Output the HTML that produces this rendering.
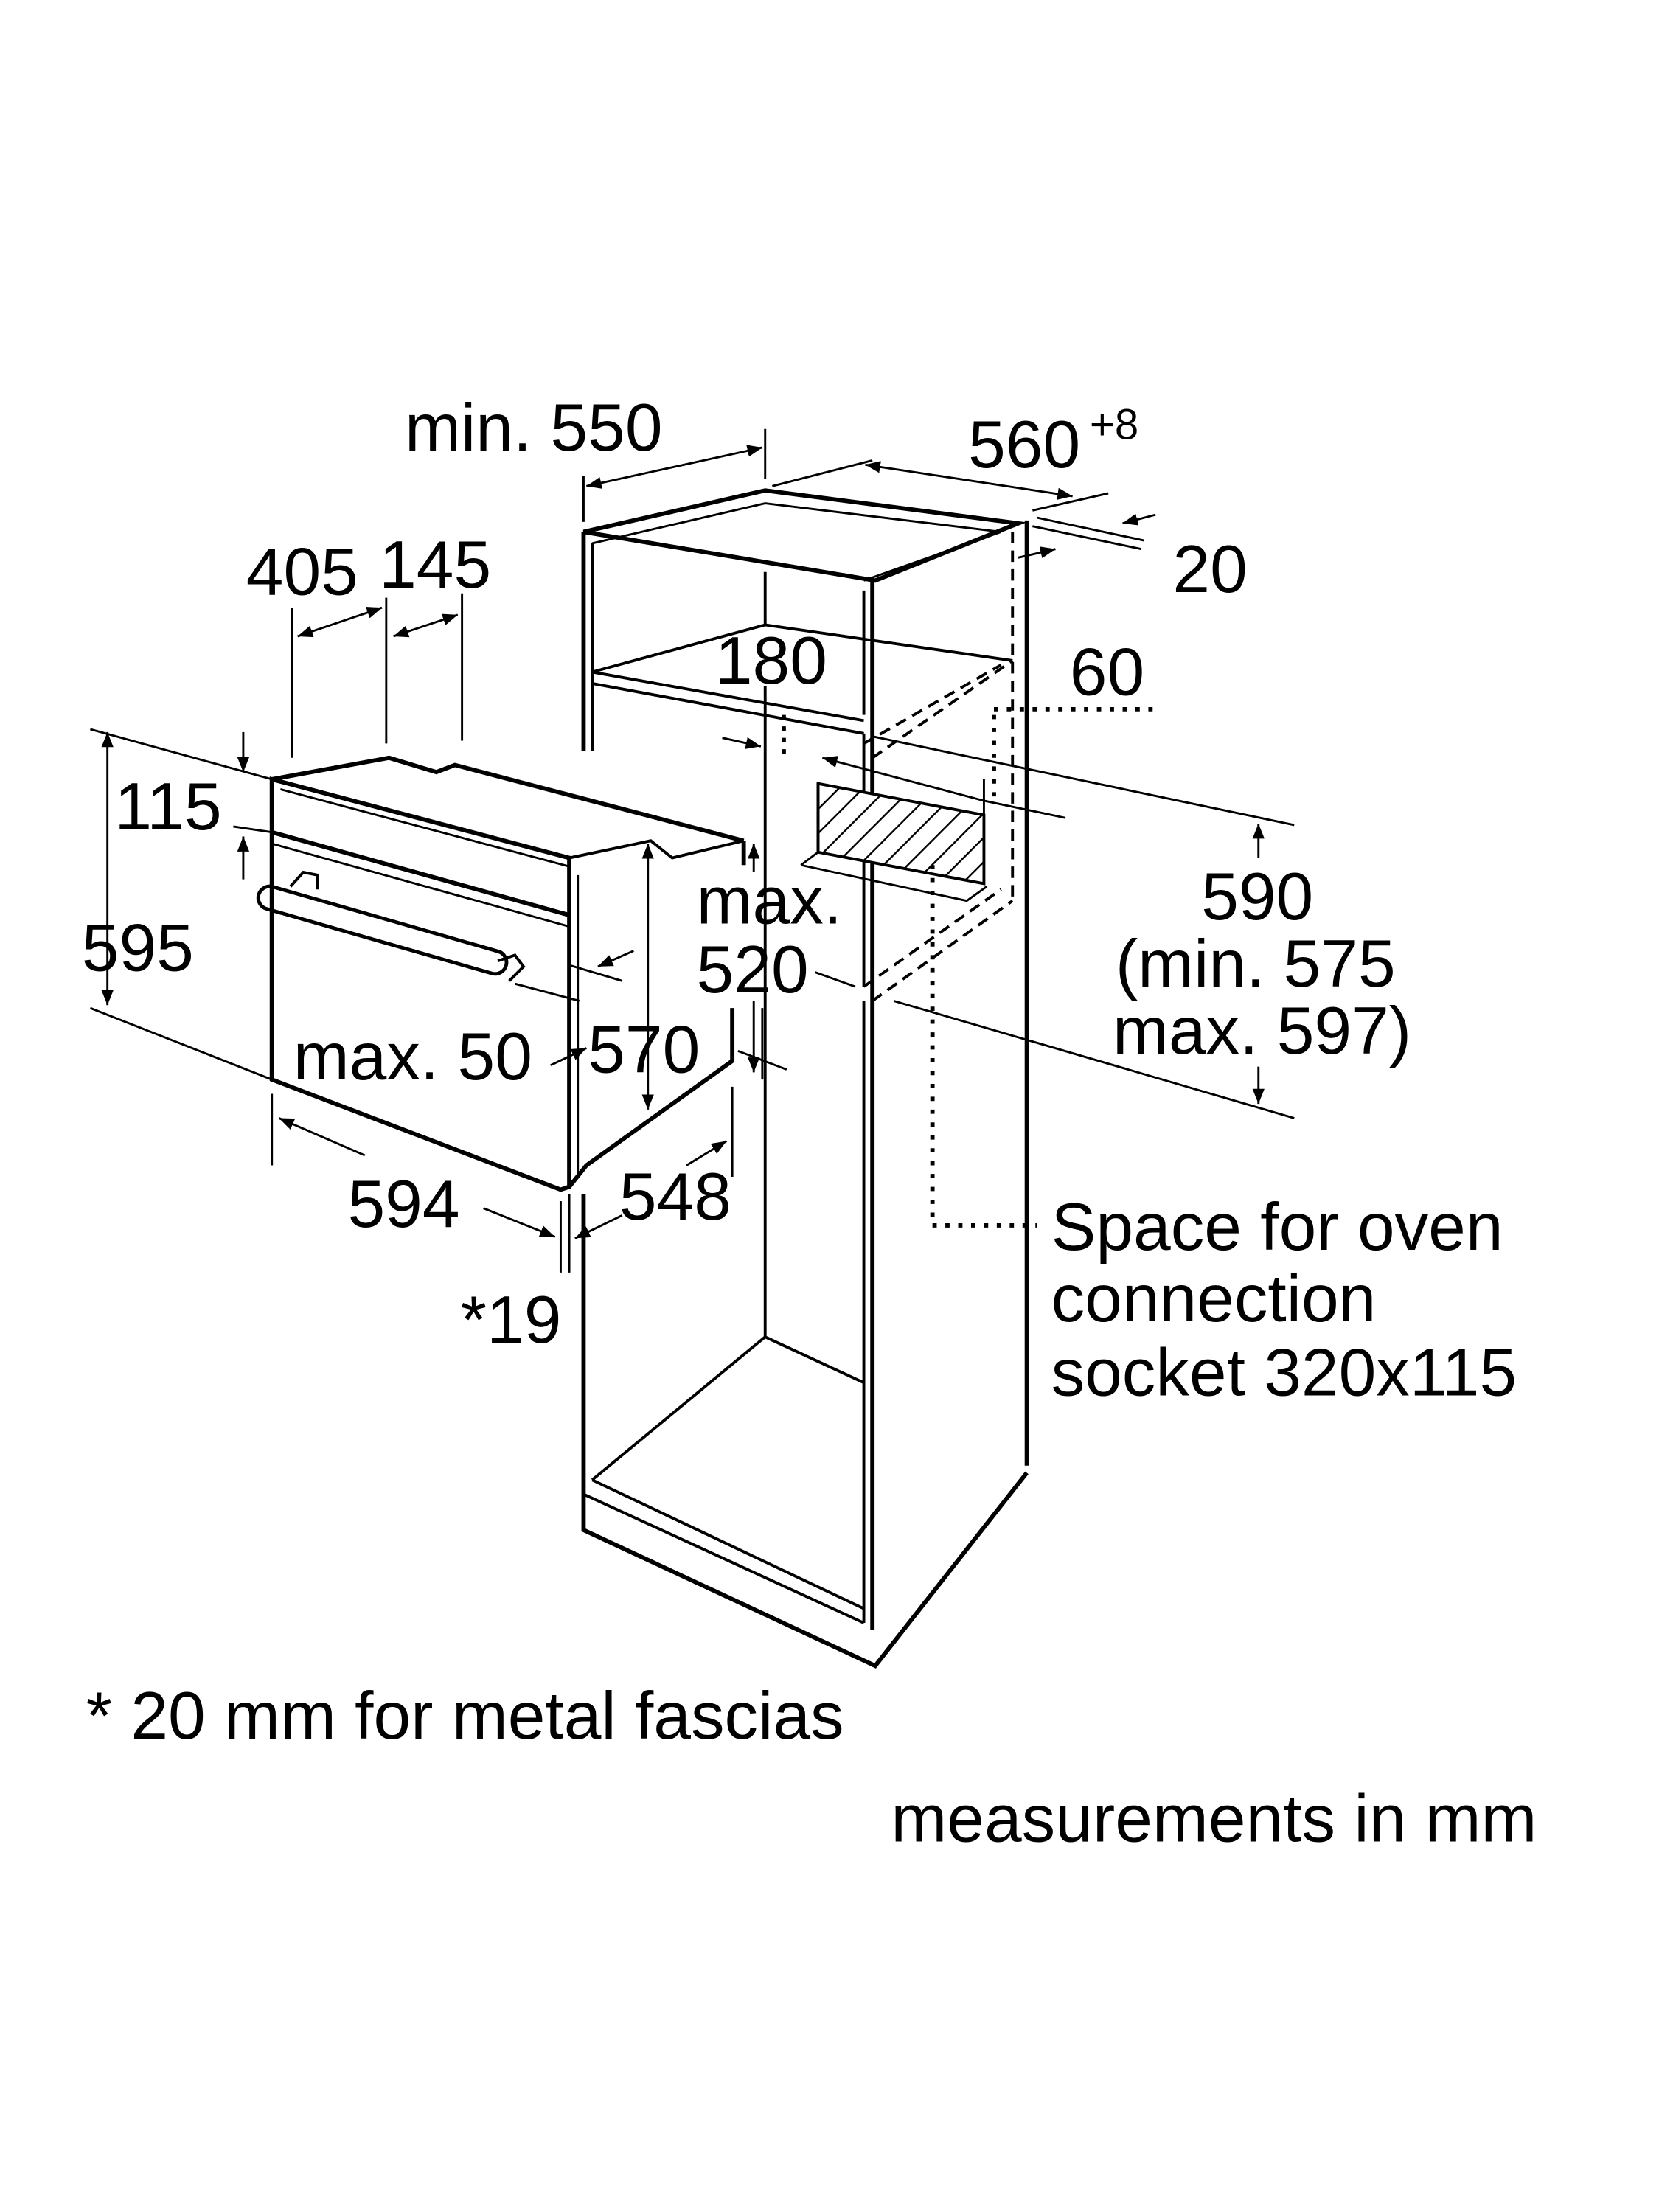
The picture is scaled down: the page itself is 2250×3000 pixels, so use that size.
<!DOCTYPE html>
<html><head><meta charset="utf-8"><style>
html,body{margin:0;padding:0;background:#fff;}
svg{display:block}
text{font-family:"Liberation Sans",sans-serif;fill:#000;}
</style></head><body>
<svg width="2250" height="3000" viewBox="0 0 1160 1547" xmlns="http://www.w3.org/2000/svg">
<defs>
<marker id="a" viewBox="0 0 10 10" refX="10" refY="5" markerWidth="7" markerHeight="7" orient="auto-start-reverse"><path d="M0,1 L10,5 L0,9 z" fill="#000"/></marker>
<pattern id="h" width="12" height="12" patternUnits="userSpaceOnUse" patternTransform="rotate(45)"><rect width="12" height="12" fill="#fff"/><line x1="0" y1="0" x2="0" y2="12" stroke="#000" stroke-width="2.5"/></pattern>
</defs>
<g fill="none" stroke="#000" stroke-width="2">
<!-- cabinet -->
<path d="M408,372 L535,343 L712,366 L612,406 Z" stroke-width="3"/>
<path d="M414,380 L535,352 L700,372 L604,406" stroke-width="1.5"/>
<line x1="408" y1="372" x2="408" y2="525" stroke-width="3"/>
<line x1="414" y1="380" x2="414" y2="525"/>
<line x1="610" y1="406" x2="610" y2="1140" stroke-width="3"/>
<line x1="604" y1="413" x2="604" y2="500"/>
<line x1="604" y1="513" x2="604" y2="690"/>
<line x1="604" y1="700" x2="604" y2="1135"/>
<line x1="718" y1="364" x2="718" y2="1025" stroke-width="3"/>
<line x1="708" y1="372" x2="708" y2="630" stroke-dasharray="8,5"/>
<path d="M414,470 L535,437 L708,462" />
<path d="M414,470 L604,504"/>
<path d="M414,478 L604,513"/>
<line x1="535" y1="400" x2="535" y2="437"/>
<line x1="535" y1="480" x2="535" y2="935"/>
<path d="M610,530 L708,462" stroke-dasharray="8,5"/>
<path d="M604,520 L700,465" stroke-dasharray="8,5"/>
<path d="M610,700 L708,630" stroke-dasharray="8,5"/>
<path d="M604,690 L700,622" stroke-dasharray="8,5"/>
<path d="M414,1035 L535,935 L604,967"/>
<path d="M414,1035 L604,1125"/>
<path d="M408,835 L408,1045 L408,1070 L612,1165 L718,1030" stroke-width="3"/>
<path d="M408,1045 L604,1135"/>
<!-- hatched socket -->
<path d="M572,548 L688,570 L688,618 L572,596 Z" fill="url(#h)" stroke-width="2"/>
<path d="M560,605 L572,596 M560,605 L676,630 L690,620" stroke-width="1.5"/>
<line x1="572" y1="548" x2="572" y2="596"/>
<!-- dotted -->
<path d="M548,500 L548,530" stroke-dasharray="3,5" stroke-width="3"/>
<path d="M695,496 L812,496" stroke-dasharray="3,6" stroke-width="3"/>
<path d="M695,500 L695,560" stroke-dasharray="3,6" stroke-width="3"/>
<path d="M652,605 L652,857 L725,857" stroke-dasharray="3,6" stroke-width="3"/>
<!-- oven -->
<path d="M190,545 L190,755 L392,832 L398,830 L398,600 Z" stroke-width="3"/>
<path d="M190,545 L272,530 L305,540 L318,535 L520,588" stroke-width="3"/>
<path d="M196,552 L398,606" stroke-width="1.5"/>
<path d="M190,582 L398,640" stroke-width="3"/>
<path d="M190,590 L398,648" stroke-width="1.5"/>
<path d="M398,600 L455,588 L470,600 L520,588" stroke-width="2"/>
<path d="M398,830 L410,815 L512,742 L512,705" stroke-width="3"/>
<path d="M404,612 L404,822" stroke-width="1.5"/>
<path d="M520,588 L520,605" stroke-width="3"/>
<rect x="183" y="618" width="180" height="16" rx="8" transform="rotate(16 183 618)" stroke-width="2.5"/>
<path d="M203,620 L212,610 L222,612 L222,622" stroke-width="2"/>
<path d="M348,672 L360,668 L366,676 L356,686" stroke-width="2"/>
<!-- dimension lines -->
<line x1="408" y1="333" x2="408" y2="365" stroke-width="1.5"/>
<line x1="535" y1="300" x2="535" y2="335" stroke-width="1.5"/>
<line x1="410" y1="340" x2="533" y2="313" stroke-width="1.5" marker-start="url(#a)" marker-end="url(#a)"/>
<line x1="540" y1="340" x2="610" y2="322" stroke-width="1.5"/>
<line x1="605" y1="325" x2="750" y2="347" stroke-width="1.5" marker-start="url(#a)" marker-end="url(#a)"/>
<line x1="722" y1="357" x2="775" y2="345" stroke-width="1.5"/>
<line x1="725" y1="362" x2="800" y2="378" stroke-width="1.5"/>
<line x1="722" y1="368" x2="798" y2="384" stroke-width="1.5"/>
<line x1="808" y1="360" x2="785" y2="366" stroke-width="1.5" marker-end="url(#a)"/>
<line x1="712" y1="390" x2="738" y2="384" stroke-width="1.5" marker-end="url(#a)"/>
<line x1="204" y1="425" x2="204" y2="530" stroke-width="1.5"/>
<line x1="270" y1="418" x2="270" y2="520" stroke-width="1.5"/>
<line x1="323" y1="415" x2="323" y2="518" stroke-width="1.5"/>
<line x1="208" y1="445" x2="267" y2="425" stroke-width="1.5" marker-start="url(#a)" marker-end="url(#a)"/>
<line x1="275" y1="445" x2="320" y2="430" stroke-width="1.5" marker-start="url(#a)" marker-end="url(#a)"/>
<line x1="63" y1="510" x2="190" y2="545" stroke-width="1.5"/>
<line x1="163" y1="578" x2="190" y2="582" stroke-width="1.5"/>
<line x1="63" y1="705" x2="190" y2="755" stroke-width="1.5"/>
<line x1="170" y1="512" x2="170" y2="540" stroke-width="1.5" marker-end="url(#a)"/>
<line x1="170" y1="615" x2="170" y2="585" stroke-width="1.5" marker-end="url(#a)"/>
<line x1="75" y1="512" x2="75" y2="703" stroke-width="1.5" marker-start="url(#a)" marker-end="url(#a)"/>
<line x1="453" y1="590" x2="453" y2="776" stroke-width="1.5" marker-start="url(#a)" marker-end="url(#a)"/>
<line x1="398" y1="675" x2="435" y2="686" stroke-width="1.5"/>
<line x1="443" y1="665" x2="418" y2="676" stroke-width="1.5" marker-end="url(#a)"/>
<line x1="360" y1="688" x2="405" y2="700" stroke-width="1.5"/>
<line x1="385" y1="745" x2="410" y2="733" stroke-width="1.5" marker-end="url(#a)"/>
<line x1="190" y1="765" x2="190" y2="815" stroke-width="1.5"/>
<line x1="195" y1="782" x2="255" y2="808" stroke-width="1.5" marker-start="url(#a)"/>
<line x1="338" y1="845" x2="388" y2="865" stroke-width="1.5" marker-end="url(#a)"/>
<line x1="392" y1="840" x2="392" y2="890" stroke-width="1.5"/>
<line x1="398" y1="835" x2="398" y2="890" stroke-width="1.5"/>
<line x1="435" y1="850" x2="402" y2="866" stroke-width="1.5" marker-end="url(#a)"/>
<line x1="512" y1="760" x2="512" y2="823" stroke-width="1.5"/>
<line x1="480" y1="815" x2="508" y2="798" stroke-width="1.5" marker-end="url(#a)"/>
<line x1="527" y1="590" x2="527" y2="610" stroke-width="1.5" marker-start="url(#a)"/>
<line x1="527" y1="700" x2="527" y2="750" stroke-width="1.5" marker-end="url(#a)"/>
<line x1="533" y1="705" x2="533" y2="755" stroke-width="1.5"/>
<line x1="516" y1="735" x2="550" y2="748" stroke-width="1.5"/>
<line x1="570" y1="680" x2="598" y2="690" stroke-width="1.5"/>
<line x1="505" y1="516" x2="532" y2="522" stroke-width="1.5" marker-end="url(#a)"/>
<line x1="575" y1="530" x2="688" y2="560" stroke-width="1.5" marker-start="url(#a)"/>
<line x1="688" y1="545" x2="688" y2="570" stroke-width="1.5"/>
<line x1="688" y1="560" x2="745" y2="572" stroke-width="1.5"/>
<line x1="610" y1="515" x2="905" y2="577" stroke-width="1.5"/>
<line x1="625" y1="700" x2="905" y2="782" stroke-width="1.5"/>
<line x1="880" y1="600" x2="880" y2="576" stroke-width="1.5" marker-end="url(#a)"/>
<line x1="880" y1="746" x2="880" y2="772" stroke-width="1.5" marker-end="url(#a)"/>
</g>
<g font-size="47">
<text x="283" y="315">min. 550</text>
<text x="677" y="327">560</text><text x="762" y="307" font-size="30">+8</text>
<text x="820" y="414">20</text>
<text x="172" y="416">405</text>
<text x="265" y="411">145</text>
<text x="500" y="478">180</text>
<text x="748" y="486">60</text>
<text x="80" y="580">115</text>
<text x="57" y="679">595</text>
<text x="487" y="646">max.</text>
<text x="487" y="694">520</text>
<text x="840" y="643">590</text>
<text x="780" y="690">(min. 575</text>
<text x="778" y="737">max. 597)</text>
<text x="205" y="755">max. 50</text>
<text x="411" y="750">570</text>
<text x="243" y="858">594</text>
<text x="433" y="853">548</text>
<text x="322" y="939">*19</text>
<text x="735" y="874">Space for oven</text>
<text x="735" y="924">connection</text>
<text x="735" y="976">socket 320x115</text>
<text x="60" y="1216">* 20 mm for metal fascias</text>
<text x="623" y="1288">measurements in mm</text>
</g>
</svg>
</body></html>
